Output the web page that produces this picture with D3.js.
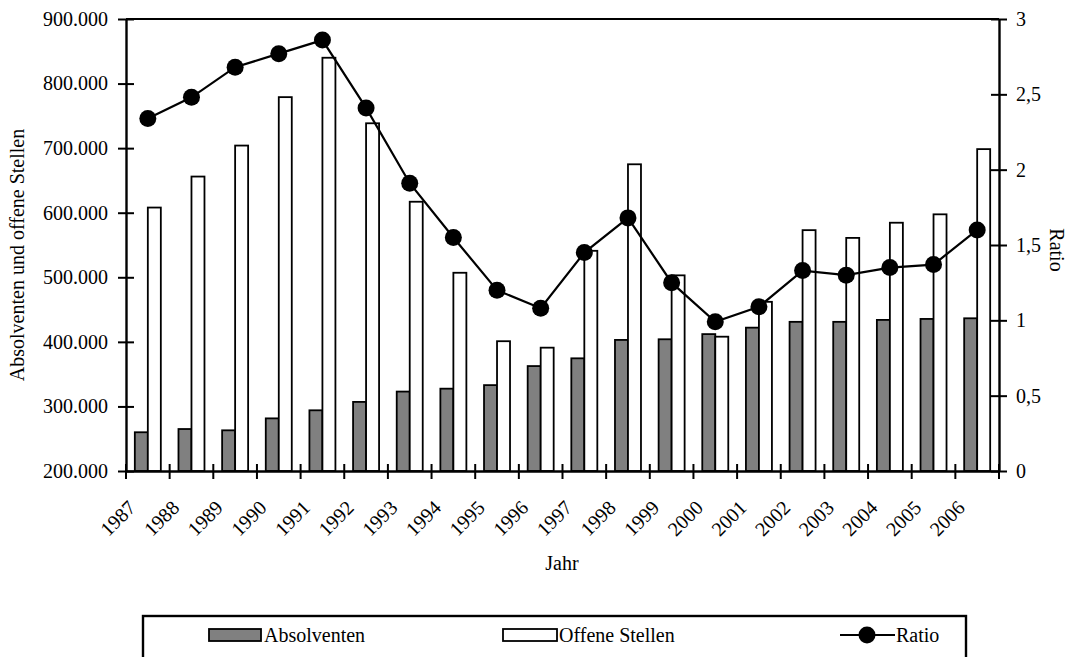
<!DOCTYPE html>
<html><head><meta charset="utf-8">
<script src="https://cdn.jsdelivr.net/npm/d3@7/dist/d3.min.js"></script>
<style>
html,body{margin:0;padding:0;background:#fff;}
svg{display:block;}
svg text{font-family:"Liberation Serif" !important; font-size:20px; fill:#000;}
</style></head>
<body>
<svg id="chart" width="1072" height="657"></svg>
<script>
const years = ["1987","1988","1989","1990","1991","1992","1993","1994","1995","1996","1997","1998","1999","2000","2001","2002","2003","2004","2005","2006"];
const absolventen = [260000,265000,263000,281500,294000,307000,323000,327500,333000,362500,374500,403000,404000,412000,422000,431000,431000,434000,435500,436500];
const offeneStellen = [608000,656000,704000,779000,840000,738500,617000,507000,401000,391000,541000,675000,503000,408000,462000,573000,561000,584500,597500,698500];
const ratio = [2.34,2.48,2.68,2.77,2.86,2.41,1.91,1.55,1.20,1.08,1.45,1.68,1.25,0.99,1.09,1.33,1.30,1.35,1.37,1.60];
const leftTicks = [200000,300000,400000,500000,600000,700000,800000,900000];
const rightTicks = [0,0.5,1,1.5,2,2.5,3];
const seriesNames = ["Absolventen","Offene Stellen","Ratio"];

const svg = d3.select("#chart");
const m = {left:126, right:999, top:19, bottom:471};
const FONT = '"Liberation Serif"';
const FS = "20px";
function tx(sel){ return sel.style("font-family", FONT).style("font-size", FS).style("fill", "#000"); }

const de = d3.formatLocale({decimal:",", thousands:".", grouping:[3], currency:["","€"]});
const fmtL = de.format(",.0f");
const fmtR = de.format(".1~f");

const x = d3.scaleBand().domain(years).range([m.left, m.right]).padding(0);
const inner = d3.scaleBand().domain(["a","o"]).range([0, 26]).padding(0);
const off = (x.bandwidth() - 26)/2;
const yL = d3.scaleLinear().domain([200000, 900000]).range([m.bottom, m.top]);
const yR = d3.scaleLinear().domain([0, 3]).range([m.bottom, m.top]);

// bars
const g = svg.append("g");
g.selectAll("rect.a").data(years).join("rect")
  .attr("x", d => x(d) + off + inner("a"))
  .attr("y", (d,i) => yL(absolventen[i]))
  .attr("width", inner.bandwidth())
  .attr("height", (d,i) => yL(200000) - yL(absolventen[i]))
  .attr("fill", "#808080").attr("stroke", "#000").attr("stroke-width", 1.8);
g.selectAll("rect.o").data(years).join("rect")
  .attr("x", d => x(d) + off + inner("o"))
  .attr("y", (d,i) => yL(offeneStellen[i]))
  .attr("width", inner.bandwidth())
  .attr("height", (d,i) => yL(200000) - yL(offeneStellen[i]))
  .attr("fill", "#fff").attr("stroke", "#000").attr("stroke-width", 1.8);

// top border
svg.append("line").attr("x1", m.left).attr("x2", m.right).attr("y1", m.top).attr("y2", m.top)
  .attr("stroke", "#000").attr("stroke-width", 2.2);

// left axis
const axL = svg.append("g").attr("transform", `translate(${m.left},0)`)
  .call(d3.axisLeft(yL).tickValues(leftTicks).tickFormat(fmtL).tickSizeInner(8).tickSizeOuter(0).tickPadding(10));
axL.selectAll(".tick line").attr("x2", 8).attr("x1", -8).attr("stroke-width", 2);
// right axis
const axR = svg.append("g").attr("transform", `translate(${m.right},0)`)
  .call(d3.axisRight(yR).tickValues(rightTicks).tickFormat(fmtR).tickSizeInner(8).tickSizeOuter(0).tickPadding(9));
axR.selectAll(".tick line").attr("x1", -8).attr("x2", 8).attr("stroke-width", 2);
// bottom axis
const boundaries = years.map(d => x(d)).concat([m.right]);
const axB = svg.append("g").attr("transform", `translate(0,${m.bottom})`)
  .call(d3.axisBottom(x).tickSize(0).tickFormat(""));
axB.selectAll(".tick").remove();
axB.selectAll("line.bt").data(boundaries).join("line").attr("class","bt")
  .attr("x1", d => d).attr("x2", d => d).attr("y1", -7).attr("y2", 8)
  .attr("stroke", "#000").attr("stroke-width", 2);

[axL, axR, axB].forEach(a => {
  a.attr("font-family", null).attr("font-size", null);
  a.select(".domain").attr("stroke-width", 2.4).attr("stroke", "#000");
  tx(a.selectAll("text"));
});

// x labels rotated
tx(svg.append("g").selectAll("text").data(years).join("text")
  .attr("transform", d => `translate(${x(d) + x.bandwidth()/2 - 11},${509}) rotate(-45)`)
  .attr("text-anchor", "end").text(d => d));

// ratio line
const line = d3.line().x((d,i) => x(years[i]) + x.bandwidth()/2).y(d => yR(d));
svg.append("path").datum(ratio).attr("d", line).attr("fill", "none").attr("stroke", "#000").attr("stroke-width", 2.2);
svg.append("g").selectAll("circle").data(ratio).join("circle")
  .attr("cx", (d,i) => x(years[i]) + x.bandwidth()/2).attr("cy", d => yR(d)).attr("r", 8.5).attr("fill", "#000");

// axis titles
tx(svg.append("text").attr("transform", `translate(24,${(m.top+m.bottom)/2 + 10}) rotate(-90)`)
  .attr("text-anchor", "middle").text("Absolventen und offene Stellen"));
tx(svg.append("text").attr("transform", `translate(1050,${(m.top+m.bottom)/2 + 5}) rotate(90)`)
  .attr("text-anchor", "middle").text("Ratio"));
tx(svg.append("text").attr("x", 562).attr("y", 570).attr("text-anchor", "middle").text("Jahr"));

// legend
const lg = svg.append("g");
lg.append("rect").attr("x", 143).attr("y", 616).attr("width", 823).attr("height", 60)
  .attr("fill", "#fff").attr("stroke", "#000").attr("stroke-width", 2.4);
lg.append("rect").attr("x", 209).attr("y", 629).attr("width", 52).attr("height", 12)
  .attr("fill", "#808080").attr("stroke", "#000").attr("stroke-width", 1.8);
tx(lg.append("text").attr("x", 264).attr("y", 642).text(seriesNames[0]));
lg.append("rect").attr("x", 503).attr("y", 629).attr("width", 54).attr("height", 12)
  .attr("fill", "#fff").attr("stroke", "#000").attr("stroke-width", 1.8);
tx(lg.append("text").attr("x", 559).attr("y", 642).text(seriesNames[1]));
lg.append("line").attr("x1", 840).attr("x2", 895).attr("y1", 635).attr("y2", 635).attr("stroke", "#000").attr("stroke-width", 2.2);
lg.append("circle").attr("cx", 867).attr("cy", 635).attr("r", 8.5).attr("fill", "#000");
tx(lg.append("text").attr("x", 896).attr("y", 642).text(seriesNames[2]));
</script>
</body></html>
